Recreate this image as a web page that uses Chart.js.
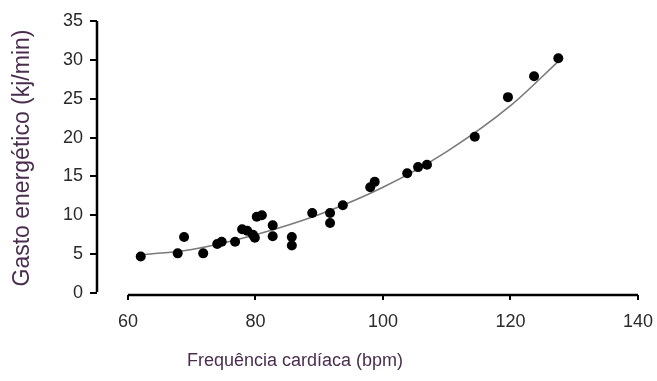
<!DOCTYPE html>
<html>
<head>
<meta charset="utf-8">
<script src="https://cdn.jsdelivr.net/npm/chart.js@4.4.0/dist/chart.umd.min.js"></script>
<style>
  html, body { margin: 0; padding: 0; background: #fff; }
  #wrap { width: 657px; height: 381px; position: relative; }
</style>
</head>
<body>
<div id="wrap"><canvas id="chart"></canvas></div>
<script>
// Frequência cardíaca (bpm) vs gasto energético (kj/min)
const heartRate = [62, 67.8, 68.8, 71.8, 74.0, 74.7, 76.8, 77.9, 78.7, 79.6, 79.9, 80.2, 81.0,
                   82.7, 82.7, 85.7, 85.7, 88.9, 91.7, 91.7, 93.7, 98.0, 98.7, 103.8, 105.5,
                   106.9, 114.4, 119.6, 123.7, 127.5];
const energy    = [4.7, 5.1, 7.2, 5.1, 6.3, 6.6, 6.6, 8.2, 8.0, 7.5, 7.1, 9.8, 10.0,
                   8.7, 7.3, 7.2, 6.1, 10.3, 10.3, 9.0, 11.3, 13.6, 14.3, 15.4, 16.2,
                   16.5, 20.1, 25.2, 27.9, 30.2];
// trend curve, sampled off the figure
const trendX = [62, 70, 80, 90, 100, 110, 120, 128];
const trendY = [4.9, 5.6, 7.5, 10.1, 13.6, 18.2, 24.1, 30.2];
const xTicks = [60, 80, 100, 120, 140];
const yTicks = [0, 5, 10, 15, 20, 25, 30, 35];
const xTitle = 'Frequência cardíaca (bpm)';
const yTitle = 'Gasto energético (kj/min)';

const FONT = 'Liberation Sans, Arial, sans-serif';

// axis spines drawn only over the tick range, like the source figure
const spinePlugin = {
    id: 'spines',
    afterDraw(chart) {
        const ctx = chart.ctx, xs = chart.scales.x, ys = chart.scales.y;
        ctx.save();
        ctx.strokeStyle = '#000';
        ctx.lineWidth = 2.5;
        ctx.beginPath();
        const yb = chart.chartArea.bottom;
        ctx.moveTo(xs.getPixelForValue(xTicks[0]), yb);
        ctx.lineTo(xs.getPixelForValue(xTicks[xTicks.length - 1]), yb);
        const xl = chart.chartArea.left;
        ctx.moveTo(xl, ys.getPixelForValue(yTicks[0]) - 1);
        ctx.lineTo(xl, ys.getPixelForValue(yTicks[yTicks.length - 1]));
        ctx.stroke();

        ctx.fillStyle = '#4a2d4f';
        ctx.font = '18px ' + FONT;
        ctx.textAlign = 'left';
        ctx.textBaseline = 'middle';
        ctx.fillText(xTitle, 187, 361);
        ctx.restore();
    }
};

new Chart(document.getElementById('chart').getContext('2d'), {
    type: 'scatter',
    data: {
        datasets: [{
            data: heartRate.map(function (x, i) { return { x: x, y: energy[i] }; }),
            backgroundColor: '#000',
            borderWidth: 0,
            pointRadius: 5,
            order: 1
        }, {
            type: 'line',
            data: trendX.map(function (x, i) { return { x: x, y: trendY[i] }; }),
            borderColor: '#7a7a7a',
            borderWidth: 1.6,
            pointRadius: 0,
            fill: false,
            cubicInterpolationMode: 'monotone',
            order: 2
        }]
    },
    options: {
        responsive: true,
        maintainAspectRatio: false,
        animation: false,
        layout: { padding: { top: 21, right: 19, left: 0, bottom: 0 } },
        plugins: { legend: { display: false }, tooltip: { enabled: false } },
        scales: {
            x: {
                type: 'linear',
                min: 55.14,
                max: 140,
                afterBuildTicks(scale) { scale.ticks = xTicks.map(function (v) { return { value: v }; }); },
                afterFit(scale) {
                    scale.height = 86;
                    scale.paddingRight = 0;
                    scale.paddingLeft = 0;
                },
                border: { display: false },
                grid: { drawOnChartArea: false, color: '#000', lineWidth: 2, tickLength: 5 },
                ticks: { color: '#2a2a2a', font: { family: FONT, size: 18 }, padding: 11, maxRotation: 0 }
            },
            y: {
                min: -0.26,
                max: 35,
                afterBuildTicks(scale) { scale.ticks = yTicks.map(function (v) { return { value: v }; }); },
                afterFit(scale) {
                    scale.width = 97;
                    scale.paddingTop = 0;
                    scale.paddingBottom = 0;
                },
                border: { display: false },
                grid: { drawOnChartArea: false, color: '#000', lineWidth: 2, tickLength: 7 },
                ticks: { color: '#2a2a2a', font: { family: FONT, size: 18 }, padding: 7 },
                title: {
                    display: true,
                    text: yTitle,
                    color: '#4a2d4f',
                    font: { family: FONT, size: 23 },
                    padding: { top: 9, bottom: 0 }
                }
            }
        }
    },
    plugins: [spinePlugin]
});
</script>
</body>
</html>
